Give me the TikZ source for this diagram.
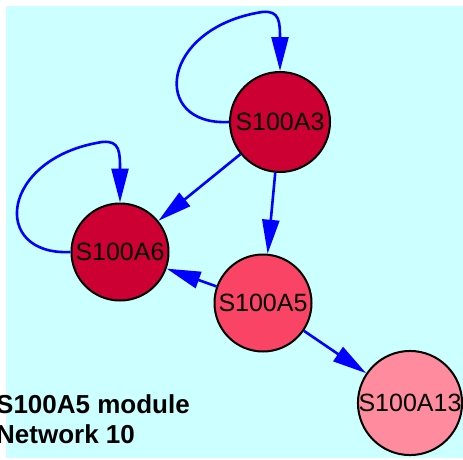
\documentclass[tikz,border=0pt]{standalone}
\usepackage{fontspec}
\setmainfont{Liberation Sans}
\usetikzlibrary{arrows.meta}
\definecolor{bgc}{HTML}{CCFFFF}
\definecolor{dred}{HTML}{CC0033}
\definecolor{mred}{HTML}{FA4466}
\definecolor{lred}{HTML}{FF8C9E}
\definecolor{edgeblue}{HTML}{0000FF}
\tikzset{
  gene/.style={circle, draw=black, line width=2pt, inner sep=0pt, minimum size=98pt,
    font=\fontsize{25}{25}\selectfont},
  edge/.style={draw=edgeblue, line width=2.6pt, -{Triangle[length=34pt,width=17pt]}},
  caption/.style={anchor=base west, inner sep=0pt, font=\fontsize{26}{30}\selectfont\bfseries}
}
\begin{document}
\begin{tikzpicture}[x=1pt,y=-1pt]
\useasboundingbox (0,0) rectangle (463,459);
\fill[bgc] (6,6) rectangle (463,458);
\node[gene, fill=dred, minimum size=100pt] (a3) at (280,122) {S100A3};
\node[gene, fill=dred, minimum size=97pt] (a6) at (120,252) {S100A6};
\node[gene, fill=mred, minimum size=97pt] (a5) at (263,303) {S100A5};
\node[gene, fill=lred, minimum size=101pt] (a13) at (410,403) {S100A13};
\draw[edge] (a3.west) .. controls (150,126) and (160,28) .. (262,12)
  .. controls (280,10) and (280,22) .. (280,40) -- (a3.north);
\draw[edge] (a6.west) .. controls (-10,256) and (0,158) .. (102,142)
  .. controls (120,140) and (120,152) .. (120,170) -- (a6.north);
\draw[edge] (a3) -- (a6);
\draw[edge] (a3) -- (a5);
\draw[edge] (a5) -- (a6);
\draw[edge] (a5) -- (a13);
\node[caption] (cap1) at (-4,413) {S100A5 module};
\node[caption] (cap2) at (-4,443) {Network 10};
\end{tikzpicture}
\end{document}
